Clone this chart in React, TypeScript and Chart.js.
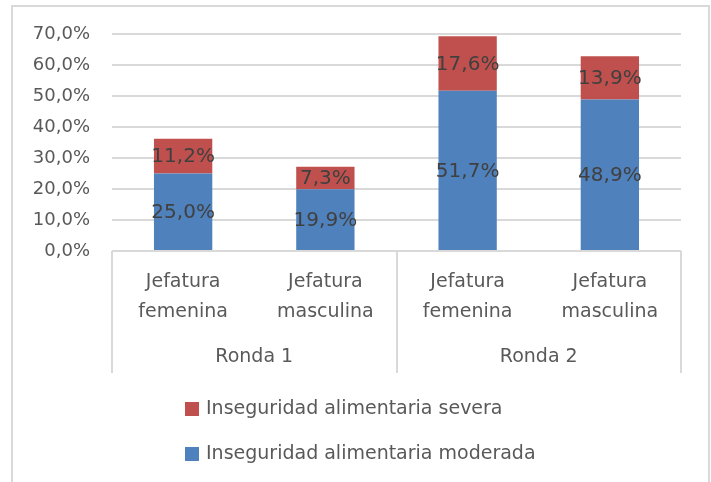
import React, { useEffect, useRef } from "react";
import { Chart, registerables } from "chart.js";

Chart.register(...registerables);

const categories: string[][] = [
  ["Jefatura", "femenina"],
  ["Jefatura", "masculina"],
  ["Jefatura", "femenina"],
  ["Jefatura", "masculina"],
];
const groups: string[] = ["Ronda 1", "Ronda 2"];
const moderada: number[] = [25.0, 19.9, 51.7, 48.9];
const severa: number[] = [11.2, 7.3, 17.6, 13.9];
const seriesNames: string[] = [
  "Inseguridad alimentaria moderada",
  "Inseguridad alimentaria severa",
];
const seriesColors: string[] = ["#4f81bd", "#c0504d"];
const yMax = 70;
const yStep = 10;

const FONT = "'DejaVu Sans', sans-serif";
const AXIS_COLOR = "#595959";
const LINE_COLOR = "#d9d9d9";

const fmt = (v: number) => v.toFixed(1).replace(".", ",") + "%";

const dataLabelsPlugin = {
  id: "dataLabels",
  afterDatasetsDraw(chart: any) {
    const ctx = chart.ctx;
    ctx.save();
    ctx.font = `20px ${FONT}`;
    ctx.fillStyle = "#404040";
    ctx.textAlign = "center";
    ctx.textBaseline = "middle";
    chart.data.datasets.forEach((ds: any, di: number) => {
      const meta = chart.getDatasetMeta(di);
      meta.data.forEach((el: any, i: number) => {
        const y = (el.y + el.base) / 2;
        ctx.fillText(fmt(ds.data[i]), el.x, y + 1);
      });
    });
    ctx.restore();
  },
};

const groupAxisPlugin = {
  id: "groupAxis",
  afterDraw(chart: any) {
    const ctx = chart.ctx;
    const area = chart.chartArea;
    const x = chart.scales.x;
    const top = area.bottom;
    const bottom = top + 122;
    const mid = (x.getPixelForTick(1) + x.getPixelForTick(2)) / 2;
    ctx.save();
    ctx.strokeStyle = LINE_COLOR;
    ctx.lineWidth = 2;
    [area.left, mid, area.right].forEach((px: number) => {
      const p = Math.round(px);
      ctx.beginPath();
      ctx.moveTo(p, top);
      ctx.lineTo(p, bottom);
      ctx.stroke();
    });
    ctx.font = `19px ${FONT}`;
    ctx.fillStyle = AXIS_COLOR;
    ctx.textAlign = "center";
    ctx.textBaseline = "middle";
    const centers = [(area.left + mid) / 2, (mid + area.right) / 2];
    groups.forEach((g, i) => ctx.fillText(g, centers[i], top + 106));
    ctx.restore();
  },
};

const legendPlugin = {
  id: "customLegend",
  afterDraw(chart: any) {
    const ctx = chart.ctx;
    const area = chart.chartArea;
    const datasets = chart.data.datasets.slice().reverse();
    ctx.save();
    ctx.font = `19px ${FONT}`;
    ctx.textAlign = "left";
    ctx.textBaseline = "middle";
    datasets.forEach((ds: any, i: number) => {
      const y = area.bottom + 151 + i * 45;
      ctx.fillStyle = ds.backgroundColor;
      ctx.fillRect(185, y, 14, 14);
      ctx.fillStyle = AXIS_COLOR;
      ctx.fillText(ds.label, 206, y + 7);
    });
    ctx.restore();
  },
};

export default function App() {
  const canvasRef = useRef<HTMLCanvasElement | null>(null);

  useEffect(() => {
    if (!canvasRef.current) return;
    const chart = new Chart(canvasRef.current, {
      type: "bar",
      data: {
        labels: categories,
        datasets: [
          {
            label: seriesNames[0],
            data: moderada,
            backgroundColor: seriesColors[0],
            borderWidth: 0,
          },
          {
            label: seriesNames[1],
            data: severa,
            backgroundColor: seriesColors[1],
            borderWidth: 0,
          },
        ],
      },
      options: {
        animation: false,
        responsive: true,
        maintainAspectRatio: false,
        layout: { padding: { top: 34, left: 0, right: 30, bottom: 109 } },
        datasets: {
          bar: { categoryPercentage: 0.41, barPercentage: 1 },
        },
        plugins: {
          legend: { display: false },
          tooltip: { enabled: false },
          title: { display: false },
        },
        scales: {
          x: {
            stacked: true,
            grid: { display: false, drawTicks: false },
            border: { display: false },
            ticks: {
              color: AXIS_COLOR,
              font: { family: FONT, size: 19, lineHeight: 1.58 },
              padding: 16,
              maxRotation: 0,
              autoSkip: false,
            },
            afterFit(scale: any) {
              scale.height = 122;
            },
          },
          y: {
            stacked: true,
            min: 0,
            max: yMax,
            grid: { color: LINE_COLOR, lineWidth: 2, drawTicks: false },
            border: { display: false },
            ticks: {
              stepSize: yStep,
              color: AXIS_COLOR,
              font: { family: FONT, size: 18 },
              padding: 22,
              callback: (v: any) => fmt(Number(v)),
            },
            afterFit(scale: any) {
              scale.width = 112;
            },
          },
        },
      },
      plugins: [dataLabelsPlugin, groupAxisPlugin, legendPlugin],
    });
    return () => chart.destroy();
  }, []);

  return (
    <div
      style={{
        position: "fixed",
        left: 0,
        top: 0,
        width: 711,
        height: 482,
        background: "#ffffff",
        overflow: "hidden",
      }}
    >
      <div
        style={{
          position: "absolute",
          left: 11,
          top: 5,
          width: 699,
          height: 520,
          border: `2px solid ${LINE_COLOR}`,
          boxSizing: "border-box",
        }}
      />
      <div style={{ position: "absolute", left: 0, top: 0, width: 711, height: 482 }}>
        <canvas ref={canvasRef} />
      </div>
    </div>
  );
}
